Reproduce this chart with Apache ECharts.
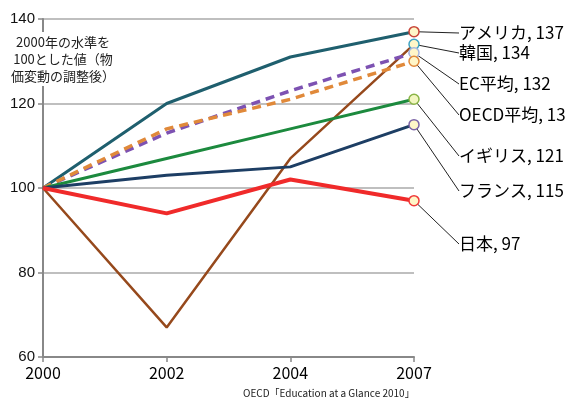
<!DOCTYPE html>
<html>
<head>
<meta charset="utf-8">
<script src="https://cdn.jsdelivr.net/npm/echarts@6/dist/echarts.min.js"></script>
<style>
  html, body {margin: 0; padding: 0; background: #fff;}
  #chart {width: 566px; height: 398px;}
</style>
</head>
<body>
<div id="chart"></div>
<script>
  // データ（2000年 = 100）
  const years = ['2000', '2002', '2004', '2007'];
  const names = ['アメリカ', '韓国', 'EC平均', 'OECD平均', 'イギリス', 'フランス', '日本'];
  const usa = [100, 120, 131, 137];
  const korea = [100, 67, 107, 134];
  const ec = [100, 113, 123, 132];
  const oecd = [100, 114, 121, 130];
  const uk = [100, 107, 114, 121];
  const france = [100, 103, 105, 115];
  const japan = [100, 94, 102, 97];
  const yTicks = [60, 80, 100, 120, 140];

  const values = [usa, korea, ec, oecd, uk, france, japan];
  // 線の色・太さ・点線、端点マーカーの色、ラベルの縦位置
  const lineColors = ['#1f5f6e', '#96491c', '#7d52b2', '#e0893a', '#1c8a3e', '#1d3e64', '#f02a2a'];
  const lineWidths = [3, 2.5, 3.5, 3.5, 3, 3, 4];
  const dashed = [false, false, true, true, false, false, false];
  const markerBorder = ['#c8463a', '#3fa3c4', '#a7b6e0', '#e0893a', '#8ab446', '#7c64a8', '#f03a3a'];
  const markerFill = ['#fff6c8', '#fff6c8', '#fff6c8', '#fff6c8', '#f2f6c0', '#fff6c8', '#fff6c8'];
  const labelY = [33, 53, 84, 115, 156, 191, 244];

  const last = years.length - 1;

  const series = names.map(function (name, i) {
    return {
      name: name,
      type: 'line',
      z: i === 6 ? 3 : 2,
      symbol: 'none',
      data: values[i].map(function (v, j) {
        if (j !== last) return {value: v, symbol: 'none'};
        return {
          value: v,
          symbol: 'circle',
          symbolSize: 10,
          itemStyle: {color: markerFill[i], borderColor: markerBorder[i], borderWidth: 1.5},
          label: {show: true}
        };
      }),
      lineStyle: {
        color: lineColors[i],
        width: lineWidths[i],
        type: dashed[i] ? [9, 6] : 'solid'
      },
      label: {
        show: false,
        color: '#000',
        fontSize: 17,
        fontFamily: 'Noto Sans CJK JP',
        formatter: function (p) {
          return name + ', ' + p.value;
        }
      },
      labelLine: {show: true, lineStyle: {color: '#222', width: 1}},
      labelLayout: function (p) {
        return {x: 459, y: labelY[i], align: 'left', verticalAlign: 'middle'};
      },
      emphasis: {disabled: true},
      animation: false
    };
  });

  const chart = echarts.init(document.getElementById('chart'));
  chart.setOption({
    backgroundColor: '#fff',
    animation: false,
    grid: {left: 43, right: 152, top: 19, bottom: 41},
    xAxis: {
      type: 'category',
      data: years,
      boundaryGap: false,
      axisLine: {lineStyle: {color: '#888', width: 2}},
      axisTick: {show: true, alignWithLabel: true, length: 5, lineStyle: {color: '#888', width: 1.5}},
      axisLabel: {color: '#000', fontSize: 16, fontFamily: 'Noto Sans CJK JP', margin: 8}
    },
    yAxis: {
      type: 'value',
      min: yTicks[0],
      max: yTicks[yTicks.length - 1],
      interval: 20,
      axisLine: {show: true, lineStyle: {color: '#888', width: 2}},
      axisTick: {show: true, length: 5, lineStyle: {color: '#888', width: 1.5}},
      axisLabel: {color: '#111', fontSize: 15, fontFamily: 'Liberation Sans', margin: 8},
      splitLine: {lineStyle: {color: '#aaa', width: 1.5}}
    },
    graphic: [
      {
        type: 'rect',
        shape: {x: 8, y: 32, width: 112, height: 54},
        style: {fill: '#fff'},
        z: 10
      },
      {
        type: 'text',
        x: 63, y: 34,
        style: {
          text: '2000年の水準を\n100とした値（物\n価変動の調整後）',
          fill: '#222',
          font: '13px "Noto Sans CJK JP"',
          lineHeight: 17,
          align: 'center'
        },
        z: 11
      },
      {
        type: 'text',
        x: 243, y: 388,
        style: {
          text: 'OECD「Education at a Glance 2010」',
          fill: '#222',
          font: '10px "Noto Sans CJK JP"'
        }
      }
    ],
    series: series
  });
</script>
</body>
</html>
